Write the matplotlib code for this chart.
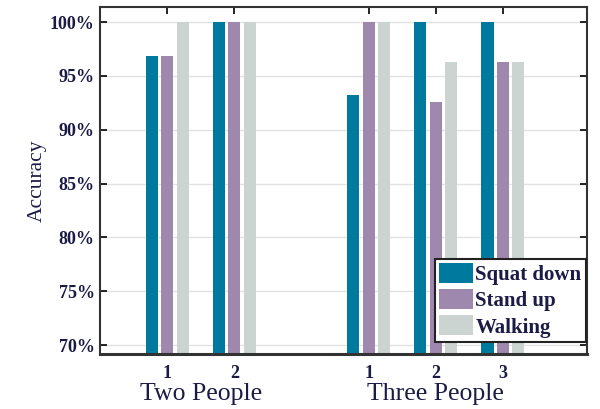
import numpy as np
import matplotlib.pyplot as plt

# accuracy (%) per scenario, bars grouped by person index
positions = [1, 2, 4, 5, 6]
tick_labels = ['1', '2', '1', '2', '3']
squat_down = [96.8, 100.0, 93.2, 100.0, 100.0]
stand_up = [96.8, 100.0, 100.0, 92.6, 96.3]
walking = [100.0, 100.0, 100.0, 96.3, 96.3]
series_names = ['Squat down', 'Stand up', 'Walking']
group_names = ['Two People', 'Three People']
group_centers = [1.5, 5.0]

colors = ['#00799f', '#9f88ad', '#ccd4d2']
text_color = '#1b1b45'

plt.rcParams['font.family'] = ['Liberation Serif', 'DejaVu Serif']

fig = plt.figure(figsize=(6, 4.09), dpi=100)
ax = fig.add_axes([0.167, 0.134, 0.811, 0.849])

x = np.array(positions, dtype=float)
width = 0.18
step = 0.23
for i, (vals, name) in enumerate(zip([squat_down, stand_up, walking], series_names)):
    ax.bar(x + (i - 1) * step, vals, width, color=colors[i], label=name, zorder=2)

ax.set_xlim(0, 7.25)
ax.set_ylim(69.15, 101.4)
ax.set_yticks([70, 75, 80, 85, 90, 95, 100])
ax.set_yticklabels([f'{v}%' for v in [70, 75, 80, 85, 90, 95, 100]])
ax.set_xticks(positions)
ax.set_xticklabels(tick_labels)
ax.grid(axis='y', color='#e2e2e2', linewidth=1.0, zorder=0)
ax.set_axisbelow(True)

ax.tick_params(direction='in', length=5, width=1.2, top=True, right=True,
               labelsize=13, labelcolor=text_color, pad=4)
ax.tick_params(axis='x', pad=8)
for lab in ax.get_xticklabels() + ax.get_yticklabels():
    lab.set_fontweight('bold')
for sp in ax.spines.values():
    sp.set_linewidth(1.5)
    sp.set_color('#333333')
ax.spines['bottom'].set_linewidth(2.2)

ax.set_ylabel('Accuracy', fontsize=15.5, color=text_color, labelpad=2)

for c, name in zip(group_centers, group_names):
    ax.text(c, -0.115, name, transform=ax.get_xaxis_transform(), ha='center', va='center',
            fontsize=18.5, color=text_color)

leg = ax.legend(loc='lower right', bbox_to_anchor=(1.0, 0.033), fancybox=False,
                edgecolor='#222222', framealpha=1,
                prop={'weight': 'bold', 'size': 15}, handlelength=1.65, handleheight=1.1,
                handletextpad=0.1, labelspacing=0.2, borderpad=0.2, borderaxespad=0.05)
leg.get_frame().set_linewidth(1.5)
for t in leg.get_texts():
    t.set_color(text_color)

fig.savefig('out.png', dpi=100)
